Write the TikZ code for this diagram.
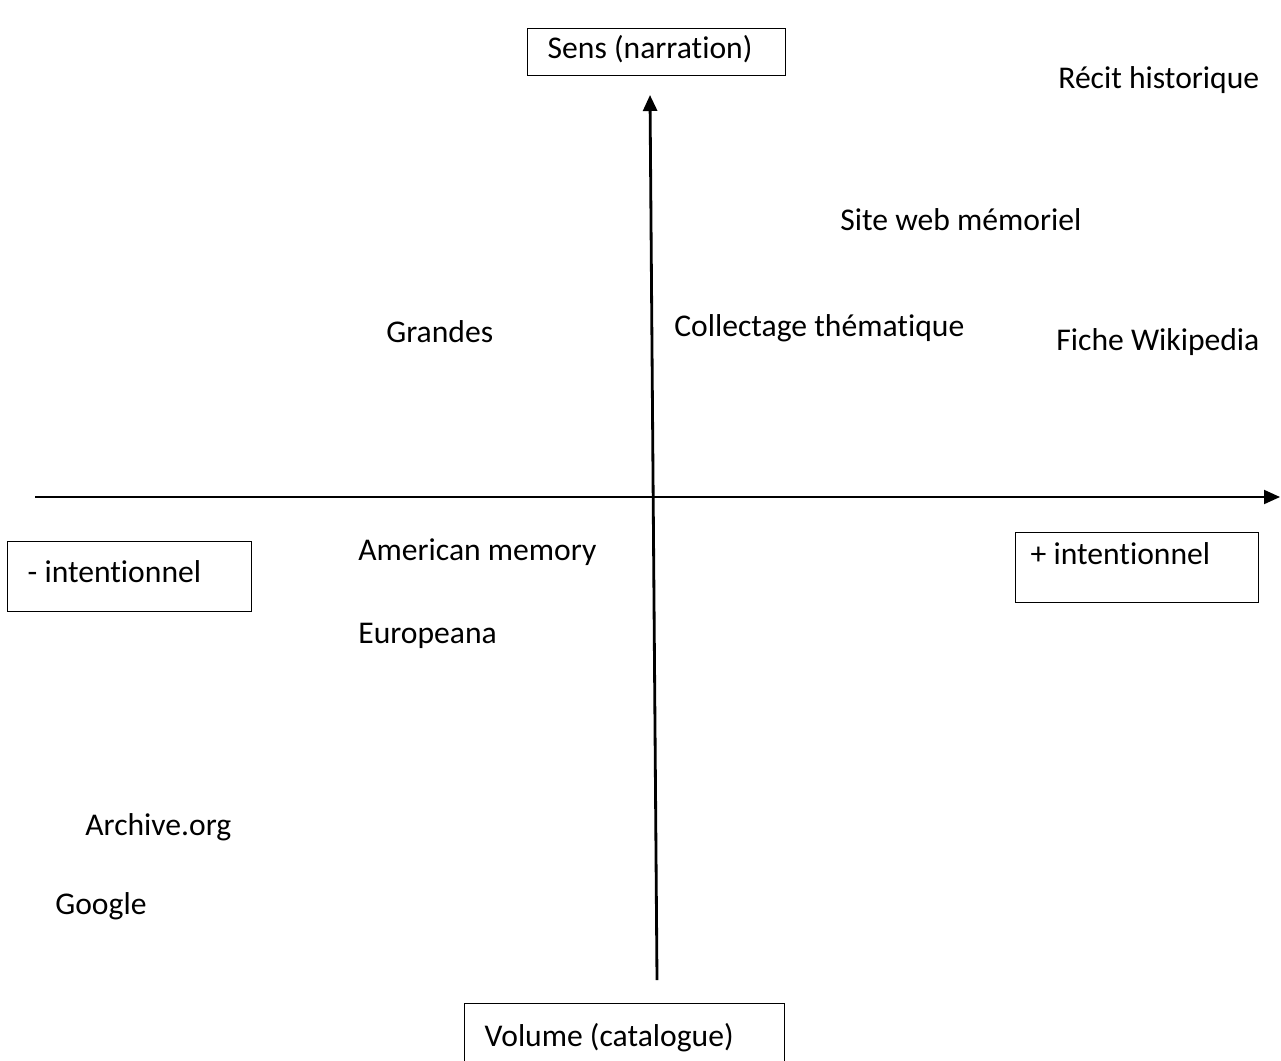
\documentclass[tikz,border=0pt]{standalone}
\usepackage{fontspec}
\setmainfont{Carlito}[Ligatures=NoCommon]
\usetikzlibrary{arrows.meta}
\tikzstyle{arr}=[-{Triangle[length=0.32cm,width=0.28cm]}]

\begin{document}
\begin{tikzpicture}[x=0.02cm,y=-0.02cm,font=\fontsize{18}{22}\selectfont]
  \tikzstyle boxS=[draw=black,line width=0.8pt,anchor=north west,align=flush left,inner xsep=0.4cm,inner ysep=0pt,text height=0.7em];
  \tikzstyle itemS=[anchor=west,inner sep=0pt,text height=0.7em,text depth=0.2em];
  \clip (0,0) rectangle (1281,1061);
  \fill[white] (0,0) rectangle (1281,1061);
  % axis boxes
  \node[boxS,text width=4.36cm,minimum height=0.94cm,text depth=0.2em-0.06cm] (sens) at (527,28) {Sens (narration)};
  \node[boxS,text width=4.08cm,minimum height=1.4cm,text depth=0.2em-0.08cm] (moins) at (7,541) {- intentionnel};
  \node[boxS,inner xsep=0.3cm,text width=4.26cm,minimum height=1.4cm,text depth=0.2em+0.32cm] (plus) at (1015,532) {+ intentionnel};
  \node[boxS,text width=5.6cm,minimum height=2cm,text depth=0.2em+0.48cm] (volume) at (464,1003) {Volume (catalogue)};
  % axes
  \coordinate (vbot) at (657,980);
  \coordinate (vtop) at (650,95);
  \coordinate (hleft) at (35,497);
  \coordinate (hright) at (1280,497);
  \draw[arr,line width=1.6pt] (vbot) -- (vtop);
  \draw[arr,line width=1.1pt] (hleft) -- (hright);
  % items
  \foreach \pname/\px/\py/\ptext in {
    recit/1058/84/Récit historique,
    siteweb/840/226/Site web mémoriel,
    grandes/386/338/Grandes,
    collectage/674/332/Collectage thématique,
    wikipedia/1056/346/Fiche Wikipedia,
    american/358/556/American memory,
    europeana/358/639/Europeana,
    archive/85/831/Archive.org,
    google/55/910/Google}
  {
    \node[itemS] (\pname) at (\px,\py) {\ptext};
  }
\end{tikzpicture}
\end{document}
